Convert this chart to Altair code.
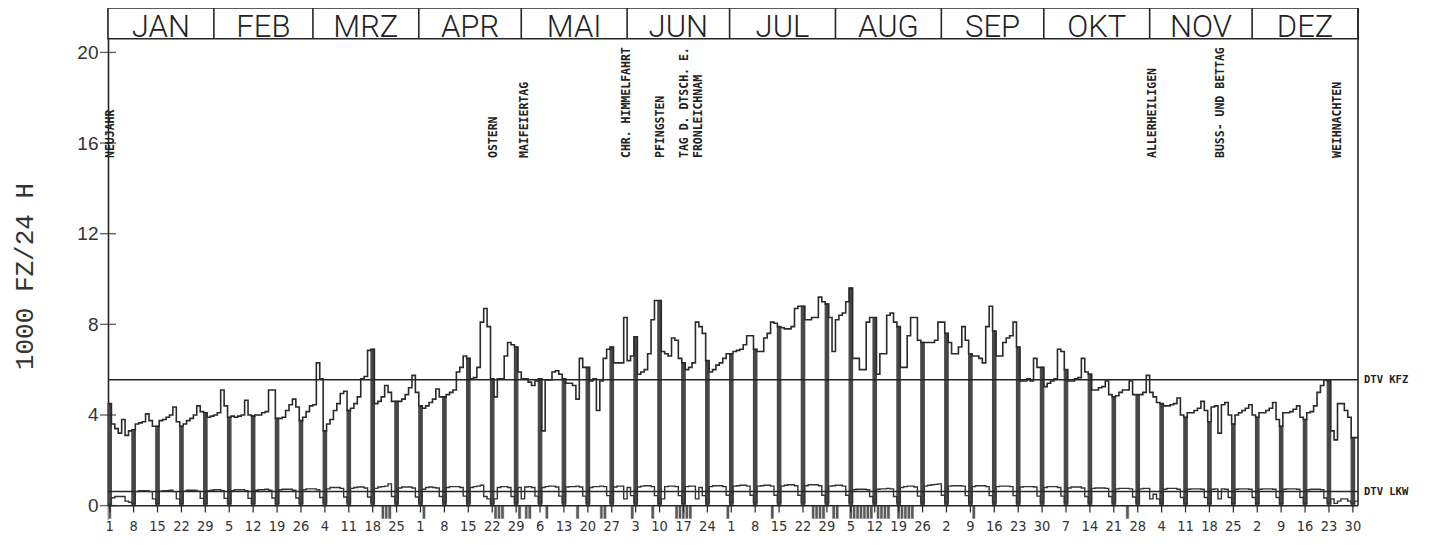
import altair as alt
import pandas as pd

# ---------------- data ----------------
# daily KFZ totals (1000 vehicles / 24 h), one row per week, Sunday..Saturday, year 1984
KFZ_WEEKS = [
    [4.5, 3.6, 3.4, 3.2, 3.8, 3.1, 3.3],
    [3.35, 3.6, 3.65, 3.7, 4.05, 3.75, 3.5],
    [3.5, 3.75, 3.8, 3.9, 4.0, 4.35, 3.7],
    [3.5, 3.6, 3.75, 3.85, 4.0, 4.4, 4.15],
    [4.1, 3.9, 3.95, 4.0, 4.1, 5.1, 4.4],
    [3.9, 3.95, 3.9, 3.95, 4.0, 4.65, 4.0],
    [3.95, 4.0, 4.0, 4.1, 4.15, 5.1, 5.1],
    [3.85, 3.85, 3.9, 4.2, 4.45, 4.7, 4.35],
    [3.75, 3.9, 4.15, 4.4, 4.45, 6.3, 5.6],
    [3.3, 3.6, 3.8, 4.2, 4.5, 4.95, 5.05],
    [4.2, 4.3, 4.5, 4.8, 5.6, 5.7, 6.85],
    [6.9, 4.5, 4.6, 4.8, 5.3, 5.0, 4.6],
    [4.6, 4.6, 4.7, 4.9, 5.2, 5.75, 5.0],
    [4.4, 4.3, 4.4, 4.55, 4.7, 5.15, 4.8],
    [4.8, 4.9, 5.0, 5.1, 5.9, 6.1, 6.6],
    [6.5, 5.6, 5.65, 6.1, 8.1, 8.7, 7.9],
    [5.6, 4.8, 5.6, 5.6, 6.6, 7.2, 7.1],
    [7.0, 5.9, 5.6, 5.6, 5.45, 5.3, 5.5],
    [5.6, 3.3, 5.55, 5.55, 5.9, 5.95, 5.8],
    [5.6, 5.4, 5.4, 5.3, 4.7, 6.5, 6.1],
    [6.1, 5.5, 5.6, 4.2, 5.5, 6.5, 6.9],
    [7.0, 6.3, 6.3, 6.3, 8.3, 6.4, 6.6],
    [7.45, 5.8, 5.9, 6.0, 6.7, 8.2, 9.05],
    [9.05, 6.8, 6.7, 6.6, 7.4, 7.3, 6.5],
    [6.3, 6.0, 6.1, 6.3, 8.1, 7.9, 7.6],
    [6.4, 5.9, 6.0, 6.2, 6.3, 6.5, 6.7],
    [6.7, 6.8, 6.85, 6.9, 7.1, 7.5, 7.5],
    [6.9, 6.8, 6.8, 7.4, 7.6, 8.1, 8.05],
    [7.9, 7.85, 7.8, 7.8, 7.9, 8.7, 8.8],
    [8.8, 8.2, 8.2, 8.3, 8.3, 9.2, 9.0],
    [8.9, 8.3, 6.8, 8.2, 8.4, 8.5, 9.0],
    [9.6, 6.5, 6.5, 6.0, 6.0, 8.1, 8.3],
    [8.3, 5.8, 6.7, 6.7, 8.4, 8.5, 8.1],
    [7.9, 6.1, 6.1, 7.5, 8.3, 8.3, 7.3],
    [7.2, 7.2, 7.2, 7.2, 7.3, 8.1, 8.1],
    [7.6, 7.2, 6.7, 6.7, 7.0, 7.9, 7.3],
    [6.7, 6.6, 6.6, 6.5, 6.3, 7.9, 8.8],
    [7.7, 6.6, 6.6, 7.2, 7.4, 7.5, 8.1],
    [7.0, 5.5, 5.5, 5.6, 5.5, 6.5, 6.1],
    [6.1, 5.25, 5.4, 5.5, 5.6, 6.9, 6.8],
    [6.0, 5.5, 5.5, 5.6, 5.65, 6.5, 5.9],
    [5.8, 5.1, 5.1, 5.2, 5.25, 5.5, 4.9],
    [4.8, 4.85, 5.0, 5.1, 5.1, 5.5, 4.9],
    [4.9, 4.9, 5.0, 5.75, 5.0, 4.8, 4.55],
    [4.5, 4.4, 4.4, 4.45, 4.5, 4.75, 4.0],
    [3.9, 4.1, 4.1, 4.2, 4.3, 4.6, 4.2],
    [3.7, 4.35, 4.4, 3.2, 4.45, 4.55, 4.0],
    [3.6, 4.0, 4.1, 4.2, 4.3, 4.45, 4.0],
    [3.9, 4.1, 4.1, 4.2, 4.3, 4.55, 3.8],
    [3.5, 4.1, 4.1, 4.15, 4.25, 4.4, 3.9],
    [3.8, 4.1, 4.15, 4.4, 5.0, 5.3, 5.55],
    [5.5, 3.3, 2.9, 4.5, 4.5, 4.2, 3.9],
    [3.0, 3.0],
]

# daily LKW (trucks), same layout
LKW_WEEKS = [
    [0.05, 0.35, 0.40, 0.40, 0.40, 0.20, 0.15],
    [0.10, 0.62, 0.66, 0.66, 0.66, 0.62, 0.30],
    [0.10, 0.64, 0.66, 0.66, 0.68, 0.62, 0.30],
    [0.10, 0.64, 0.68, 0.68, 0.68, 0.64, 0.32],
    [0.10, 0.66, 0.68, 0.70, 0.70, 0.66, 0.32],
    [0.10, 0.66, 0.70, 0.70, 0.70, 0.66, 0.32],
    [0.10, 0.68, 0.70, 0.70, 0.72, 0.68, 0.34],
    [0.10, 0.70, 0.72, 0.72, 0.72, 0.68, 0.34],
    [0.10, 0.70, 0.74, 0.74, 0.74, 0.70, 0.36],
    [0.12, 0.74, 0.80, 0.80, 0.80, 0.76, 0.38],
    [0.12, 0.76, 0.80, 0.82, 0.82, 0.78, 0.38],
    [0.12, 0.76, 0.82, 0.84, 0.86, 0.96, 0.40],
    [0.12, 0.78, 0.82, 0.82, 0.82, 0.78, 0.38],
    [0.12, 0.72, 0.80, 0.82, 0.80, 0.78, 0.40],
    [0.12, 0.80, 0.84, 0.84, 0.84, 0.80, 0.42],
    [0.12, 0.80, 0.84, 0.86, 0.90, 0.40, 0.30],
    [0.10, 0.30, 0.80, 0.84, 0.84, 0.80, 0.40],
    [0.12, 0.80, 0.30, 0.82, 0.84, 0.80, 0.42],
    [0.12, 0.80, 0.84, 0.86, 0.86, 0.82, 0.42],
    [0.12, 0.82, 0.84, 0.84, 0.86, 0.82, 0.42],
    [0.12, 0.80, 0.84, 0.84, 0.86, 0.84, 0.44],
    [0.12, 0.82, 0.86, 0.86, 0.30, 0.80, 0.44],
    [0.12, 0.82, 0.86, 0.88, 0.88, 0.84, 0.44],
    [0.10, 0.30, 0.84, 0.86, 0.86, 0.84, 0.44],
    [0.10, 0.84, 0.86, 0.86, 0.30, 0.80, 0.44],
    [0.12, 0.84, 0.88, 0.88, 0.88, 0.84, 0.46],
    [0.12, 0.86, 0.88, 0.90, 0.90, 0.86, 0.46],
    [0.12, 0.86, 0.88, 0.90, 0.90, 0.86, 0.46],
    [0.12, 0.86, 0.90, 0.92, 0.92, 0.88, 0.46],
    [0.12, 0.88, 0.92, 0.92, 0.92, 0.88, 0.46],
    [0.12, 0.86, 0.88, 0.90, 0.90, 0.86, 0.46],
    [0.12, 0.70, 0.72, 0.72, 0.72, 0.70, 0.40],
    [0.12, 0.72, 0.74, 0.74, 0.76, 0.74, 0.40],
    [0.12, 0.80, 0.84, 0.86, 0.86, 0.82, 0.42],
    [0.12, 0.86, 0.90, 0.92, 0.94, 0.96, 0.46],
    [0.12, 0.86, 0.88, 0.88, 0.88, 0.86, 0.44],
    [0.12, 0.84, 0.88, 0.88, 0.88, 0.84, 0.44],
    [0.12, 0.84, 0.86, 0.86, 0.86, 0.84, 0.44],
    [0.12, 0.82, 0.84, 0.84, 0.84, 0.82, 0.42],
    [0.12, 0.80, 0.84, 0.84, 0.84, 0.80, 0.42],
    [0.12, 0.78, 0.82, 0.82, 0.82, 0.78, 0.40],
    [0.12, 0.76, 0.78, 0.78, 0.78, 0.76, 0.40],
    [0.12, 0.74, 0.76, 0.76, 0.76, 0.74, 0.38],
    [0.12, 0.74, 0.76, 0.76, 0.30, 0.50, 0.30],
    [0.10, 0.72, 0.76, 0.76, 0.76, 0.72, 0.36],
    [0.10, 0.72, 0.74, 0.74, 0.74, 0.72, 0.36],
    [0.10, 0.72, 0.74, 0.30, 0.74, 0.72, 0.36],
    [0.10, 0.72, 0.74, 0.74, 0.74, 0.72, 0.36],
    [0.10, 0.72, 0.74, 0.74, 0.74, 0.72, 0.36],
    [0.10, 0.72, 0.74, 0.74, 0.74, 0.72, 0.36],
    [0.10, 0.70, 0.72, 0.72, 0.72, 0.70, 0.34],
    [0.10, 0.30, 0.10, 0.20, 0.30, 0.30, 0.20],
    [0.10, 0.20],
]

DTV_KFZ = 5.55
DTV_LKW = 0.62

MONTHS = ["JAN", "FEB", "MRZ", "APR", "MAI", "JUN", "JUL", "AUG", "SEP", "OKT", "NOV", "DEZ"]
MONTH_START = [0, 31, 60, 91, 121, 152, 182, 213, 244, 274, 305, 335, 366]

HOLIDAY_NAMES = ["NEUJAHR", "OSTERN", "MAIFEIERTAG", "CHR. HIMMELFAHRT", "PFINGSTEN",
                 "TAG D. DTSCH. E.", "FRONLEICHNAM", "ALLERHEILIGEN", "BUSS- UND BETTAG",
                 "WEIHNACHTEN"]
HOLIDAY_DAYS = [0, 112, 121, 151, 161, 168, 172, 305, 325, 359]

# day-of-month printed under every Sunday
SUNDAY_LABELS = [1, 8, 15, 22, 29, 5, 12, 19, 26, 4, 11, 18, 25, 1, 8, 15, 22, 29,
                 6, 13, 20, 27, 3, 10, 17, 24, 1, 8, 15, 22, 29, 5, 12, 19, 26,
                 2, 9, 16, 23, 30, 7, 14, 21, 28, 4, 11, 18, 25, 2, 9, 16, 23, 30]

# days marked with a dark block under the base line
MARKED_DAYS = [0, 80, 81, 82, 92, 113, 114, 115, 120, 122, 123, 128, 137, 144, 145,
               153, 159, 166, 167, 168, 169, 170, 181, 194, 206, 207, 208, 209, 212,
               213, 217, 218, 219, 220, 221, 222, 223, 225, 226, 227, 228, 231, 232,
               233, 234, 235, 253, 298]

Y_TICKS = [0, 4, 8, 12, 16, 20]
Y_TITLE = "1000 FZ/24 H"

# ---------------- frame constants ----------------
N_DAYS = 366
Y_MIN, Y_TOP, Y_MAX = -0.59, 20.6, 21.96
W, H = 1250, 511
INK = "#262626"

kfz = [v for w in KFZ_WEEKS for v in w]
lkw = [v for w in LKW_WEEKS for v in w]
days = list(range(len(kfz)))

line_kfz = pd.DataFrame({"d": days + [N_DAYS], "v": kfz + [kfz[-1]]})
line_lkw = pd.DataFrame({"d": days + [N_DAYS], "v": lkw + [lkw[-1]]})
sundays = [d for d in days if d % 7 == 0]
sun_df = pd.DataFrame({"d": sundays, "d2": [d + 1 for d in sundays],
                       "dc": [d + 0.5 for d in sundays],
                       "v": [0.0] * len(sundays), "v2": [kfz[d] for d in sundays],
                       "vt": [-0.3] * len(sundays), "vb": [Y_MIN] * len(sundays),
                       "t": [str(x) for x in SUNDAY_LABELS]})
mark_df = pd.DataFrame({"d": MARKED_DAYS, "d2": [d + 1 for d in MARKED_DAYS],
                        "v": [Y_MIN] * len(MARKED_DAYS), "v2": [0.0] * len(MARKED_DAYS)})
hol_df = pd.DataFrame({"d": [d + 1.0 for d in HOLIDAY_DAYS], "v": [15.34] * len(HOLIDAY_DAYS),
                       "t": HOLIDAY_NAMES})
month_df = pd.DataFrame({"d": [(MONTH_START[i] + MONTH_START[i + 1]) / 2 for i in range(12)],
                         "v": [Y_TOP + 0.07] * 12, "t": MONTHS})
div_df = pd.DataFrame({"d": MONTH_START[1:-1], "v": [Y_TOP] * 11, "v2": [Y_MAX] * 11})
hdr_df = pd.DataFrame({"d": [0], "d2": [N_DAYS], "v": [Y_TOP], "v2": [Y_MAX]})
hrule_df = pd.DataFrame({"d": [0, 0, 0], "d2": [N_DAYS] * 3, "v": [0.0, DTV_KFZ, DTV_LKW]})
vrule_df = pd.DataFrame({"d": [N_DAYS], "v": [0.0], "v2": [Y_MAX]})
ytick_df = pd.DataFrame({"d": [0] * len(Y_TICKS), "v": Y_TICKS})
dtv_df = pd.DataFrame({"d": [N_DAYS, N_DAYS], "v": [DTV_KFZ, DTV_LKW], "t": ["DTV KFZ", "DTV LKW"]})

xs = alt.Scale(domain=[0, N_DAYS], nice=False, zero=False)
ys = alt.Scale(domain=[Y_MIN, Y_MAX], nice=False, zero=False)

x_axis = alt.Axis(labels=False, ticks=False, domain=False, grid=False, title=None)
y_axis = alt.Axis(values=Y_TICKS, ticks=False, grid=False, domain=True, domainColor=INK,
                  domainWidth=1.6, labelFontSize=19, labelFont="Liberation Sans",
                  labelColor="#333", labelPadding=10, title=Y_TITLE,
                  titleFontSize=26, titleFont="Liberation Mono", titleFontWeight="normal",
                  titleColor="#333", titleX=-84, titleY=268, titleBaseline="middle",
                  titleAngle=270, labelOverlap=False)

X = lambda f="d": alt.X(f"{f}:Q", scale=xs)
Y = lambda f="v": alt.Y(f"{f}:Q", scale=ys)

base_axes = alt.Chart(hdr_df).mark_rect(fill="white", stroke=INK, strokeWidth=1.6).encode(
    x=alt.X("d:Q", scale=xs, axis=x_axis), x2="d2:Q",
    y=alt.Y("v:Q", scale=ys, axis=y_axis), y2="v2:Q")

dividers = alt.Chart(div_df).mark_rule(color=INK, strokeWidth=1.6).encode(x=X(), y=Y(), y2="v2:Q")
months = alt.Chart(month_df).mark_text(font="Roboto", fontWeight=300, fontSize=31, color="#222",
                                       baseline="alphabetic", align="center").encode(
    x=X(), y=Y(), text="t:N")
blocks = alt.Chart(mark_df).mark_rect(fill="#5a5a5a", stroke="white", strokeWidth=0.6).encode(
    x=X(), x2="d2:Q", y=Y(), y2="v2:Q")
sun_ticks = alt.Chart(sun_df).mark_rule(color=INK, strokeWidth=1.2).encode(
    x=X("dc"), y=Y(), y2="vt:Q")
sun_labels = alt.Chart(sun_df).mark_text(
    font="DejaVu Sans Condensed, Liberation Sans Narrow, Liberation Sans", fontSize=14.5,
    color="#333", baseline="top", align="center", dy=1).encode(
    x=X("dc"), y=Y("vb"), text="t:N")
sun_bars = alt.Chart(sun_df).mark_rect(fill="#474747", stroke="#474747", strokeWidth=1.2).encode(
    x=X(), x2="d2:Q", y=Y(), y2="v2:Q")
hrules = alt.Chart(hrule_df).mark_rule(color=INK, strokeWidth=1.5).encode(
    x=X(), x2="d2:Q", y=Y())
vrule = alt.Chart(vrule_df).mark_rule(color=INK, strokeWidth=1.6).encode(
    x=X(), y=Y(), y2="v2:Q")
l_kfz = alt.Chart(line_kfz).mark_line(interpolate="step-after", color="#2a2a2a",
                                      strokeWidth=1.6).encode(x=X(), y=Y())
l_lkw = alt.Chart(line_lkw).mark_line(interpolate="step-after", color="#333",
                                      strokeWidth=1.4).encode(x=X(), y=Y())
yticks = alt.Chart(ytick_df).mark_tick(orient="horizontal", size=16, thickness=1.4,
                                       color=INK).encode(x=X(), y=Y())
hol_txt = alt.Chart(hol_df).mark_text(font="DejaVu Sans Mono", fontWeight="bold", fontSize=11.5,
                                      angle=270, align="left", baseline="middle",
                                      color="#222").encode(x=X(), y=Y(), text="t:N")
dtv_txt = alt.Chart(dtv_df).mark_text(font="DejaVu Sans Mono", fontWeight="bold", fontSize=10.5,
                                      align="left", baseline="middle", dx=6,
                                      color="#222").encode(x=X(), y=Y(), text="t:N")

chart = alt.layer(base_axes, dividers, months, blocks, sun_ticks, sun_bars, hrules, vrule,
                  l_lkw, l_kfz, yticks, hol_txt, dtv_txt, sun_labels).properties(
    width=W, height=H,
    autosize=alt.AutoSizeParams(type="none"),
    padding={"left": 100, "top": 0, "right": 65, "bottom": 18},
    background="white",
).configure_view(stroke=None)

chart.save("out.html", embed_options={"renderer": "svg", "actions": False})
